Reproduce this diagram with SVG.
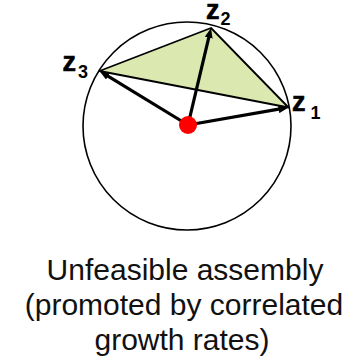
<svg xmlns="http://www.w3.org/2000/svg" width="360" height="361" viewBox="0 0 360 361">
<style>
.lbl{font-family:"Liberation Sans",Arial,sans-serif;font-weight:bold;fill:#000}
.z{font-size:27px;stroke:#000;stroke-width:0.6}
.s{font-size:18px}
.cap{font-family:"Liberation Sans",Arial,sans-serif;font-size:30px;fill:#111;text-anchor:middle}
.arr{stroke:#000;stroke-width:3.2;fill:none;marker-end:url(#ah)}
</style>
<defs>
<marker id="ah" markerUnits="userSpaceOnUse" viewBox="0 0 10 8" refX="3" refY="4" markerWidth="10" markerHeight="8" orient="auto">
<path d="M0,0 L10,4 L0,8 z" fill="#000"/>
</marker>
</defs>
<rect width="360" height="361" fill="#fff"/>
<g id="circle"><circle cx="187" cy="126" r="104" fill="none" stroke="#000" stroke-width="1.6"/></g>
<g id="triangle"><polygon points="99.5,71 211,28 288.5,107.5" fill="#dbe8b0" stroke="#000" stroke-width="1.8" stroke-linejoin="round"/></g>
<g id="connectors">
<line class="arr" x1="188" y1="125" x2="281.6" y2="108.7"/>
<line class="arr" x1="188" y1="125" x2="209.4" y2="34.8"/>
<line class="arr" x1="188" y1="125" x2="105.5" y2="74.6"/>
</g>
<g id="center"><circle cx="188" cy="125" r="9" fill="#ff0000"/></g>
<g id="z1"><text class="lbl z" x="292" y="111">z</text><text class="lbl s" x="310.5" y="118.5">1</text></g>
<g id="z2"><text class="lbl z" x="206" y="18.5">z</text><text class="lbl s" x="220.5" y="25">2</text></g>
<g id="z3"><text class="lbl z" x="62.5" y="71">z</text><text class="lbl s" x="78" y="78">3</text></g>
<g id="caption">
<text class="cap" x="185" y="280">Unfeasible assembly</text>
<text class="cap" x="184" y="315">(promoted by correlated</text>
<text class="cap" x="182" y="350">growth rates)</text>
</g>
</svg>
